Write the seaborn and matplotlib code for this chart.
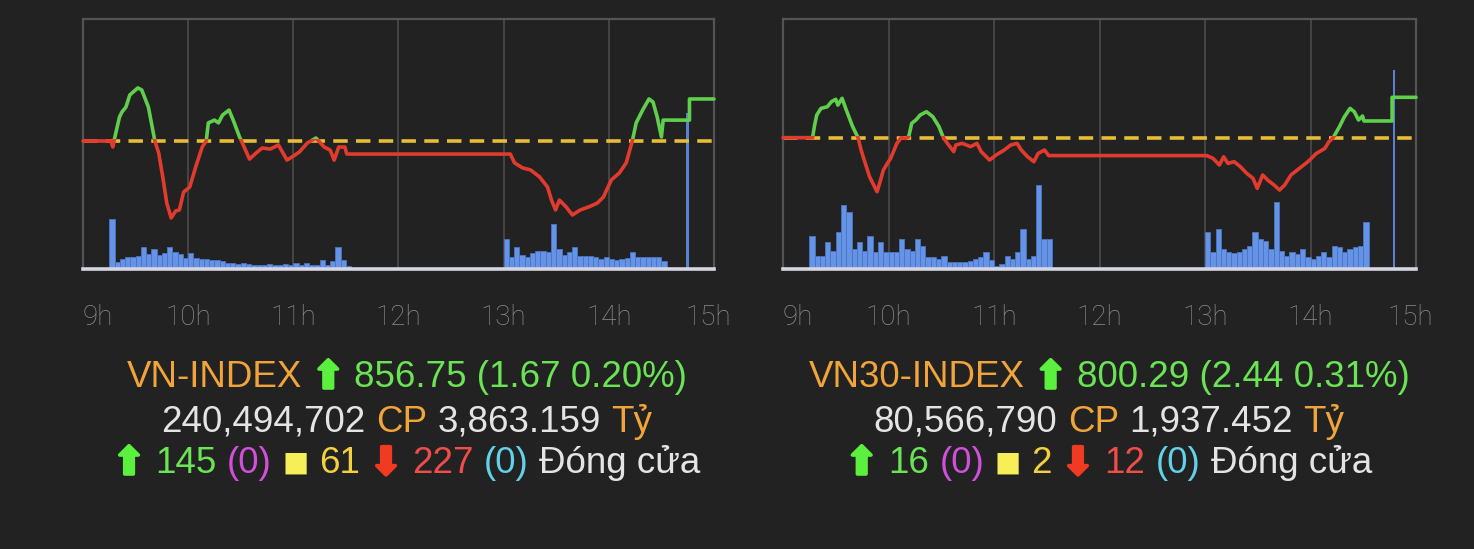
import numpy as np
import pandas as pd
import matplotlib
matplotlib.use("Agg")
import matplotlib.pyplot as plt
import matplotlib.patheffects as pe
from matplotlib.patches import Rectangle
from matplotlib.transforms import ScaledTranslation
import seaborn as sns

# ---- data (minutes after 9:00) ----
hour_labels = ['9h', '10h', '11h', '12h', '13h', '14h', '15h']
hour_minutes = [0, 60, 120, 180, 240, 300, 360]

# VN-INDEX intraday line
vn_minutes = [0, 15.9, 17, 18.2, 20.8, 22.2, 24.5, 26.7, 31.3, 33.5, 37.3, 41, 43.2, 45.5,
              47.8, 50.3, 52.9, 55, 57.4, 60.9, 64.3, 68, 70.3, 71.5, 75, 77.3, 79.6, 83.3,
              85.7, 89.3, 90.4, 92.7, 95, 98.7, 102.2, 106.9, 111.5, 116.4, 120, 123.4, 128,
              132.9, 137.6, 141, 143.3, 145.9, 149.4, 150.5, 243.8, 246.2, 250.8, 255.3,
              260.5, 265, 267.3, 269.6, 271.8, 275.6, 279.2, 283.8, 288.6, 293.4, 296.9,
              301.4, 306, 309.9, 313.4, 315.6, 319.3, 322.9, 325.2, 327.6, 330, 331, 346,
              346, 360]
vn_values = [855.08, 855.08, 854.84, 855.24, 856.03, 856.23, 856.43, 856.91, 857.19, 857.11,
             856.43, 855.08, 854.60, 853.65, 852.61, 852.02, 852.30, 852.34, 853.05, 853.25,
             854.05, 854.84, 855.08, 855.80, 855.91, 855.80, 856.11, 856.31, 855.91, 855.24,
             855.08, 854.72, 854.36, 854.60, 854.80, 854.76, 854.92, 854.32, 854.48, 854.64,
             855.00, 855.20, 854.84, 854.72, 854.32, 854.84, 854.84, 854.56, 854.56, 854.21,
             854.01, 853.93, 853.65, 853.25, 852.73, 852.34, 852.73, 852.46, 852.14, 852.34,
             852.46, 852.61, 852.85, 853.53, 853.81, 854.21, 855.08, 855.80, 856.31, 856.75,
             856.63, 856.03, 855.24, 855.91, 855.91, 856.75, 856.75]
vn_ref = 855.08
vn_ylim = (849.99, 859.93)

# VN30-INDEX intraday line
vn30_minutes = [0, 16.8, 18.0, 19.2, 21.6, 25.2, 27.6, 30.0, 31.2, 33.6, 36.0, 39.6, 42.7,
                44.4, 46.8, 49.2, 51.6, 53.5, 55.2, 57.1, 58.8, 61.2, 64.8, 67.2, 69.6, 71.5,
                73.2, 75.6, 78.0, 81.6, 85.2, 88.7, 91.2, 93.5, 97.1, 98.3, 101.9, 106.7,
                110.3, 112.7, 117.5, 121.1, 125.9, 129.5, 133.1, 135.5, 139.1, 142.7, 145.1,
                148.7, 151.1, 241, 244.6, 248.2, 250.6, 253.0, 256.6, 260.1, 263.7, 267.3,
                269.7, 272.8, 275.7, 279.3, 282.4, 285.3, 288.9, 293.7, 298.5, 303.3, 308.1,
                310.5, 312.9, 316.5, 319.3, 322.5, 324.9, 327.3, 329.6, 330.4, 346.4, 346.4, 360]
vn30_values = [797.85, 797.85, 798.62, 799.22, 799.62, 799.72, 800.03, 800.17, 799.82, 800.23,
               799.52, 798.52, 797.85, 797.11, 796.30, 795.50, 794.99, 794.59, 795.19, 795.90,
               796.20, 796.60, 797.51, 797.85, 797.81, 797.91, 798.72, 798.92, 799.22, 799.42,
               799.12, 798.52, 797.85, 797.51, 797.01, 797.41, 797.51, 797.31, 797.51, 797.01,
               796.50, 796.80, 797.11, 797.41, 797.51, 797.11, 796.70, 796.40, 796.90, 797.11,
               796.77, 796.77, 796.60, 796.20, 796.70, 796.30, 796.40, 796.10, 795.70, 795.40,
               794.79, 795.60, 795.29, 794.99, 794.69, 794.99, 795.60, 796.00, 796.40, 796.90,
               797.20, 797.61, 797.85, 798.52, 799.12, 799.62, 799.42, 798.92, 799.16, 798.86,
               798.86, 800.29, 800.29]
vn30_ref = 797.85
vn30_ylim = (789.92, 805.02)

# volume, 3-minute bins (relative units), morning 9:15-11:30 and afternoon 13:00-14:30
am_bins = list(range(15, 153, 3))
pm_bins = list(range(240, 333, 3))
vn_vol_am = [50, 7, 10, 12, 12, 13, 22, 15, 20, 14, 16, 22, 17, 15, 11, 16, 11, 10, 10, 9, 9, 8,
             6, 6, 5, 6, 5, 4, 4, 4, 5, 4, 4, 5, 4, 6, 4, 6, 4, 4, 9, 4, 8, 22, 9, 3]
vn_vol_pm = [30, 12, 22, 14, 12, 16, 18, 18, 17, 45, 20, 14, 17, 22, 13, 13, 13, 12, 10, 12, 10,
             9, 10, 11, 17, 12, 12, 12, 12, 12, 8]
vn_close_min, vn_close_vol = 345, 156
vn30_vol_am = [33, 13, 13, 27, 18, 37, 64, 57, 20, 27, 18, 33, 17, 27, 17, 17, 17, 30, 20, 18,
               30, 23, 12, 12, 10, 13, 7, 7, 7, 7, 8, 10, 12, 17, 9, 3, 5, 13, 10, 17, 40, 10,
               13, 84, 30, 30]
vn30_vol_pm = [37, 17, 40, 20, 17, 16, 17, 20, 23, 37, 30, 28, 20, 67, 18, 13, 17, 15, 20, 12,
               10, 13, 17, 12, 23, 22, 17, 20, 22, 23, 47]
vn30_close_min, vn30_close_vol = 347.5, 199
VOL_TOP = 250

# summary text
vn_head = ['VN-INDEX', '856.75 (1.67 0.20%)']
vn_trade = ['240,494,702', 'CP', '3,863.159', 'Tỷ']
vn_breadth = ['145', '(0)', '61', '227', '(0)', 'Đóng cửa']
vn30_head = ['VN30-INDEX', '800.29 (2.44 0.31%)']
vn30_trade = ['80,566,790', 'CP', '1,937.452', 'Tỷ']
vn30_breadth = ['16', '(0)', '2', '12', '(0)', 'Đóng cửa']

# ---- style ----
BG = '#222222'
FRAME = '#545454'
GRID = '#484848'
GREEN_LINE = '#5fcf4c'
RED_LINE = '#e23b2e'
DASH = '#e6bd35'
BAR = '#6594e6'
BAR_EDGE = '#4c75c4'
CLOSE_BAR = '#5a82d2'
ORANGE = '#f1a43a'
GREEN_TXT = '#6ae454'
GREEN_ARROW = '#5cf03e'
MAGENTA = '#d24fdc'
YELLOW_SQ = '#f6ef58'
YELLOW_TXT = '#f2d03e'
RED_TXT = '#ef4d4a'
RED_ARROW = '#f03a22'
CYAN = '#62d2ea'
WHITE_TXT = '#e4e4e4'
TICK_TXT = '#8c8c8c'
TEXT_FONT = ['Liberation Sans', 'DejaVu Sans']
SYM_FONT = ['DejaVu Sans']

sns.set_style('dark', {'axes.facecolor': BG, 'figure.facecolor': BG})
plt.rcParams['font.family'] = TEXT_FONT

W, H = 1474, 549
fig = plt.figure(figsize=(W / 100, H / 100), dpi=100, facecolor=BG)
ax_l = fig.add_axes([83 / W, 280 / H, 631 / W, 250 / H])
ax_r = fig.add_axes([783 / W, 280 / H, 633 / W, 250 / H])


def draw_panel(ax, minutes, values, ref, ylim, vol_am, vol_pm, close_min, close_vol):
    # volume bars on a twin axis underneath the price line
    ax_vol = ax.twinx()
    ax_vol.set_facecolor(BG)
    ax_vol.vlines(hour_minutes[1:-1], 0, VOL_TOP, color=GRID, lw=1.3, zorder=0)
    ax_vol.bar(am_bins, vol_am, width=3, align='edge', color=BAR, edgecolor=BAR_EDGE, lw=0.6)
    ax_vol.bar(pm_bins, vol_pm, width=3, align='edge', color=BAR, edgecolor=BAR_EDGE, lw=0.6)
    ax_vol.bar([close_min], [close_vol], width=1.5, color=CLOSE_BAR, edgecolor=CLOSE_BAR, lw=0)
    ax_vol.set_ylim(0, VOL_TOP)
    ax_vol.axis('off')
    ax.set_zorder(ax_vol.get_zorder() + 1)
    ax.patch.set_visible(False)

    ax.axhline(ref, color=DASH, lw=2.6, dashes=(4, 2.3), zorder=1)

    df = pd.DataFrame({'minute': minutes, 'value': values})
    eps = (ylim[1] - ylim[0]) / 250 * 1.6
    for color, lo, hi in ((RED_LINE, ylim[0] - 5, ref + eps), (GREEN_LINE, ref + eps, ylim[1] + 5)):
        sns.lineplot(data=df, x='minute', y='value', ax=ax, color=color, lw=2.6,
                     estimator=None, sort=False, zorder=3)
        clip = Rectangle((-10, lo), 400, hi - lo, transform=ax.transData)
        ax.lines[-1].set_clip_path(clip)

    ax.set_xlim(0, 360)
    ax.set_ylim(*ylim)
    ax.set_yticks([])
    ax.set_xlabel('')
    ax.set_ylabel('')
    ax.set_xticks(hour_minutes)
    ax.set_xticklabels(hour_labels)
    ax.tick_params(axis='x', length=0, pad=25, labelsize=20, labelcolor=TICK_TXT)
    for lab in ax.get_xticklabels():
        lab.set_fontfamily(['Roboto', 'DejaVu Sans'])
        lab.set_fontweight('light')
    labs = ax.get_xticklabels()
    labs[0].set_ha('left')
    labs[-1].set_transform(labs[-1].get_transform() + ScaledTranslation(-6 / 100, 0, fig.dpi_scale_trans))
    ax.grid(False)
    for side in ('top', 'left', 'right'):
        ax.spines[side].set_color(FRAME)
        ax.spines[side].set_linewidth(1.6)
        ax.spines[side].set_visible(True)
    ax.spines['bottom'].set_color('#d6d6e2')
    ax.spines['bottom'].set_linewidth(2.6)
    ax.spines['bottom'].set_visible(True)


draw_panel(ax_l, vn_minutes, vn_values, vn_ref, vn_ylim, vn_vol_am, vn_vol_pm,
           vn_close_min, vn_close_vol)
draw_panel(ax_r, vn30_minutes, vn30_values, vn30_ref, vn30_ylim, vn30_vol_am, vn30_vol_pm,
           vn30_close_min, vn30_close_vol)

renderer = fig.canvas.get_renderer()
FS = 26.5
GAP = 10.5


def rich_line(xc, baseline, parts):
    arts = []
    for s, color, size, fam, wt, dy, stroke in parts:
        t = fig.text(0, 1 - (baseline + dy) / H, s, color=color, fontsize=size,
                     family=fam, fontweight=wt, ha='left', va='baseline')
        if stroke:
            t.set_path_effects([pe.withStroke(linewidth=stroke, foreground=color)])
        arts.append(t)
    widths = [a.get_window_extent(renderer).width for a in arts]
    x = xc - (sum(widths) + GAP * (len(arts) - 1)) / 2
    for a, w in zip(arts, widths):
        a.set_x(x / W)
        x += w + GAP


def txt(s, color):
    return (s, color, FS, TEXT_FONT, 'normal', 0, 0)


def up():
    return ('⬆', GREEN_ARROW, 27, SYM_FONT, 'normal', 1, 2.6)


def down():
    return ('⬇', RED_ARROW, 27, SYM_FONT, 'normal', 1, 2.6)


def square():
    return ('■', YELLOW_SQ, 20, SYM_FONT, 'normal', -2, 0)


for xc, head, trade, br in ((407, vn_head, vn_trade, vn_breadth),
                            (1109, vn30_head, vn30_trade, vn30_breadth)):
    rich_line(xc, 387, [txt(head[0], ORANGE), up(), txt(head[1], GREEN_TXT)])
    rich_line(xc, 432, [txt(trade[0], WHITE_TXT), txt(trade[1], ORANGE),
                        txt(trade[2], WHITE_TXT), txt(trade[3], ORANGE)])
    rich_line(xc, 473, [up(), txt(br[0], GREEN_TXT), txt(br[1], MAGENTA), square(),
                        txt(br[2], YELLOW_TXT), down(), txt(br[3], RED_TXT),
                        txt(br[4], CYAN), txt(br[5], WHITE_TXT)])

fig.savefig('out.png', dpi=100, facecolor=BG)
